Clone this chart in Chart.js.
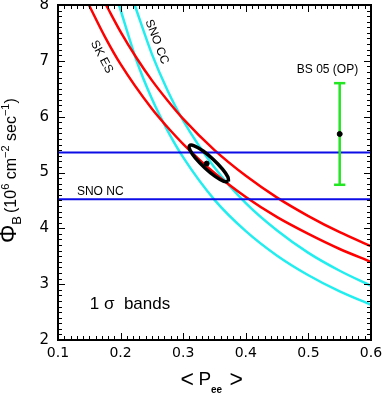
<!DOCTYPE html>
<html lang="en">
<head>
  <meta charset="UTF-8" />
  <title>Phi_B vs Pee</title>
  <script src="https://cdn.jsdelivr.net/npm/chart.js"></script>
  <style>
    body { margin: 0; background: #ffffff; }
    #plot { display: block; }
  </style>
</head>
<body>
  <canvas id="plot" width="382" height="394"></canvas>

  <script>
    // axis ticks
    const xTicks = [0.1, 0.2, 0.3, 0.4, 0.5, 0.6];
    const yTicks = [2, 3, 4, 5, 6, 7, 8];

    // SK ES 1 sigma band (red)
    const esLowP    = [0.1494, 0.175, 0.2, 0.25, 0.275, 0.3, 0.35, 0.4, 0.45, 0.5, 0.55, 0.6];
    const esLowPhi  = [8.0, 7.43, 6.94, 6.14, 5.81, 5.51, 4.99, 4.56, 4.20, 3.90, 3.63, 3.40];
    const esHighP   = [0.1769, 0.2, 0.225, 0.25, 0.275, 0.3, 0.35, 0.4, 0.45, 0.5, 0.55, 0.6];
    const esHighPhi = [8.0, 7.52, 7.06, 6.65, 6.29, 5.96, 5.40, 4.94, 4.55, 4.22, 3.93, 3.68];

    // SNO CC 1 sigma band (cyan)
    const ccLowP    = [0.1975, 0.225, 0.25, 0.275, 0.3, 0.35, 0.4, 0.45, 0.5, 0.55, 0.6];
    const ccLowPhi  = [8.0, 7.02, 6.32, 5.75, 5.27, 4.51, 3.95, 3.51, 3.16, 2.87, 2.63];
    const ccHighP   = [0.2225, 0.25, 0.275, 0.3, 0.35, 0.4, 0.45, 0.5, 0.55, 0.6];
    const ccHighPhi = [8.0, 7.12, 6.47, 5.93, 5.09, 4.45, 3.96, 3.56, 3.24, 2.97];

    // SNO NC 1 sigma band (blue)
    const ncP   = [0.1, 0.6];
    const ncLow  = 4.52;
    const ncHigh = 5.36;

    // combined fit: 1 sigma contour and best fit point
    const ellipseP   = [0.3723, 0.3714, 0.3624, 0.3477, 0.3313, 0.3176, 0.3101, 0.3110, 0.3200, 0.3347, 0.3511, 0.3649, 0.3723];
    const ellipsePhi = [4.837, 4.920, 5.066, 5.238, 5.389, 5.478, 5.482, 5.399, 5.253, 5.081, 4.930, 4.841, 4.837];
    const bestP = 0.3375;
    const bestPhi = 5.16;

    // BS05 (OP) prediction
    const bsP = 0.55;
    const bsPhi = 5.69;
    const bsLow = 4.78;
    const bsHigh = 6.60;
    const bsCap = 0.009;

    const pts = (xs, ys) => xs.map((x, i) => ({ x, y: ys[i] }));
    const flat = (xs, y) => xs.map(x => ({ x, y }));

    const RED = '#ff0000', CYAN = '#22eef0', BLUE = '#0c0ce6', GREEN = '#22e622';
    const FONT = '"Liberation Sans", Arial, sans-serif';
    const TICKFONT = '"DejaVu Sans", sans-serif';

    function curve(data, color, width) {
      return { data, showLine: true, borderColor: color, borderWidth: width,
               pointRadius: 0, cubicInterpolationMode: 'monotone', clip: 2 };
    }

    // frame, inward ticks, axis titles and text labels
    const decor = {
      id: 'decor',
      afterDatasetsDraw(chart) {
        const { ctx, chartArea: a, scales: { x, y } } = chart;
        ctx.save();
        ctx.strokeStyle = '#000';
        ctx.lineWidth = 1;
        ctx.beginPath();
        for (let i = 0; i <= 50; i++) {
          const v = 0.1 + i * 0.01;
          const len = i % 10 === 0 ? 7 : 4;
          const px = Math.round(x.getPixelForValue(v)) + 0.5;
          ctx.moveTo(px, a.bottom); ctx.lineTo(px, a.bottom - len);
          ctx.moveTo(px, a.top); ctx.lineTo(px, a.top + len);
        }
        for (let i = 0; i <= 60; i++) {
          const v = 2 + i * 0.1;
          const len = i % 10 === 0 ? 7 : 4;
          const py = Math.round(y.getPixelForValue(v)) + 0.5;
          ctx.moveTo(a.left, py); ctx.lineTo(a.left + len, py);
          ctx.moveTo(a.right, py); ctx.lineTo(a.right - len, py);
        }
        ctx.stroke();
        ctx.lineWidth = 2;
        ctx.strokeRect(a.left, a.top, a.right - a.left, a.bottom - a.top);

        ctx.fillStyle = '#000';
        ctx.textBaseline = 'alphabetic';

        // labels on the plot
        const label = (text, px, py, size, rot) => {
          ctx.save();
          ctx.translate(x.getPixelForValue(px), y.getPixelForValue(py));
          ctx.rotate(rot * Math.PI / 180);
          ctx.font = size + 'px ' + FONT;
          ctx.textAlign = 'center';
          ctx.textBaseline = 'middle';
          ctx.fillText(text, 0, 0);
          ctx.restore();
        };
        label('SK ES', 0.1698, 7.07, 12, 62);
        label('SNO CC', 0.2577, 7.34, 12, 69);
        label('SNO NC', 0.1675, 4.66, 12, 0);
        label('BS 05 (OP)', 0.5305, 6.85, 12, 0);
        label('1 \u03c3  bands', 0.215, 2.64, 17, 0);

        // x title: < P_ee >
        const cx = (a.left + a.right) / 2;
        ctx.textAlign = 'left';
        ctx.font = '23px ' + FONT;
        const lt = ctx.measureText('<');
        const ly = 379 + (lt.actualBoundingBoxAscent - lt.actualBoundingBoxDescent) / 2;
        ctx.fillText('<', cx - 34, ly);
        ctx.fillText('>', cx + 15, ly);
        ctx.font = '19px ' + FONT;
        ctx.fillText('P', cx - 16, 385);
        ctx.font = 'bold 10px ' + FONT;
        ctx.fillText('ee', cx - 3.5, 393);

        // y title: Phi_B (10^6 cm^-2 sec^-1)
        ctx.translate(16, 243);
        ctx.rotate(-Math.PI / 2);
        let t = 0;
        const put = (s, size, dy, bold) => {
          ctx.font = (bold ? 'bold ' : '') + size + 'px ' + FONT;
          ctx.fillText(s, t, dy);
          t += ctx.measureText(s).width;
        };
        put('\u03a6', 23, 0);
        put('B', 13, 5);
        t += 3;
        put('(10', 16, 0);
        put('6', 11, -7);
        put(' cm', 16, 0);
        put('\u22122', 11, -7);
        put(' sec', 16, 0);
        put('\u22121', 11, -7);
        put(')', 16, 0);
        ctx.restore();
      }
    };

    new Chart(document.getElementById('plot'), {
      type: 'scatter',
      data: {
        datasets: [
          { data: pts(ellipseP, ellipsePhi), showLine: true, borderColor: '#000', borderWidth: 3.5,
            pointRadius: 0, tension: 0.4 },
          { data: [{ x: bestP, y: bestPhi }, { x: bsP, y: bsPhi }], pointRadius: 2.5,
            backgroundColor: '#000', borderColor: '#000' },
          curve([{ x: bsP, y: bsLow }, { x: bsP, y: bsHigh }], GREEN, 2.5),
          curve([{ x: bsP - bsCap, y: bsLow }, { x: bsP + bsCap, y: bsLow }], GREEN, 2.5),
          curve([{ x: bsP - bsCap, y: bsHigh }, { x: bsP + bsCap, y: bsHigh }], GREEN, 2.5),
          curve(flat(ncP, ncLow), BLUE, 2),
          curve(flat(ncP, ncHigh), BLUE, 2),
          curve(pts(esLowP, esLowPhi), RED, 2.5),
          curve(pts(esHighP, esHighPhi), RED, 2.5),
          curve(pts(ccLowP, ccLowPhi), CYAN, 2.5),
          curve(pts(ccHighP, ccHighPhi), CYAN, 2.5)
        ]
      },
      options: {
        responsive: false,
        animation: false,
        layout: { padding: { top: 5, right: 11, left: 0, bottom: 0 } },
        plugins: { legend: { display: false }, tooltip: { enabled: false } },
        scales: {
          x: {
            type: 'linear', min: 0.1, max: 0.6,
            afterBuildTicks: s => { s.ticks = xTicks.map(v => ({ value: v })); },
            afterFit: s => { s.height = 54; s.paddingLeft = 0; s.paddingRight = 0; },
            grid: { display: false, drawTicks: false },
            border: { display: false },
            ticks: { color: '#000', padding: 5, maxRotation: 0, autoSkip: false,
                     font: { family: TICKFONT, size: 14 }, callback: v => v.toFixed(1) }
          },
          y: {
            type: 'linear', min: 2, max: 8,
            afterBuildTicks: s => { s.ticks = yTicks.map(v => ({ value: v })); },
            afterFit: s => { s.width = 58; s.paddingTop = 0; s.paddingBottom = 0; },
            grid: { display: false, drawTicks: false },
            border: { display: false },
            ticks: { color: '#000', padding: 9, autoSkip: false,
                     font: { family: TICKFONT, size: 15 }, callback: v => String(v) }
          }
        }
      },
      plugins: [decor]
    });
  </script>
</body>
</html>
